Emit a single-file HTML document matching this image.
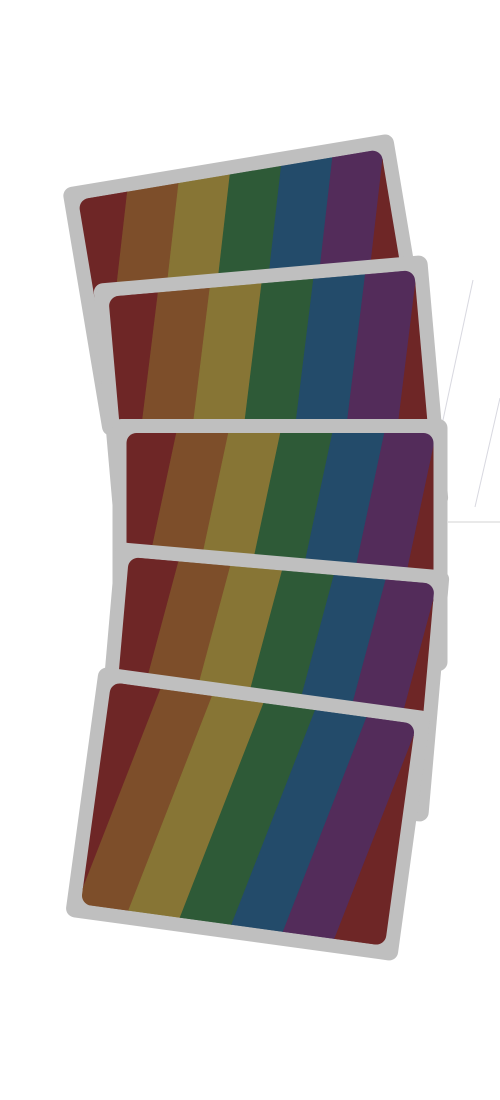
<!DOCTYPE html>
<html><head><meta charset="utf-8"><style>
html,body{margin:0;padding:0;background:#fff;}
svg{display:block;}
</style></head><body>
<svg id="s" width="500" height="1100" viewBox="0 0 500 1100">
<line x1="473" y1="280" x2="443" y2="420" stroke="#d8d8e0" stroke-width="1"/>
<line x1="500" y1="398" x2="475" y2="507" stroke="#d8d8e0" stroke-width="1"/>
<line x1="448" y1="522" x2="500" y2="522" stroke="#e2e2e2" stroke-width="1.5"/>
</svg>
<script>
const cardCx = [248, 271, 280, 272, 248];
const cardCy = [285, 395, 545, 682, 814];
const cardRot = [-9.5, -5, 0, 5, 7.8];
const cardSkew = [-16, -12, -12, -10, -13.5];
const colors = ['#6e2626','#7d4e2a','#877535','#2e5a37','#234b6a','#532c5a'];
const NS = 'http://www.w3.org/2000/svg';
const svg = document.getElementById('s');
const W = 335, H = 252, B = 14;
for (let c = 0; c < cardCx.length; c++) {
  const g = document.createElementNS(NS, 'g');
  g.setAttribute('transform', `translate(${cardCx[c]},${cardCy[c]}) rotate(${cardRot[c]})`);
  
  
  const outer = document.createElementNS(NS, 'rect');
  outer.setAttribute('x', -W/2); outer.setAttribute('y', -H/2);
  outer.setAttribute('width', W); outer.setAttribute('height', H);
  outer.setAttribute('rx', 9); outer.setAttribute('fill', '#bfbfbf');
  
  
  g.appendChild(outer);
  const cp = document.createElementNS(NS, 'clipPath');
  cp.setAttribute('id', 'cp' + c);
  const ir = document.createElementNS(NS, 'rect');
  const iw = W - 2*B, ih = H - 2*B;
  ir.setAttribute('x', -iw/2); ir.setAttribute('y', -ih/2);
  ir.setAttribute('width', iw); ir.setAttribute('height', ih); ir.setAttribute('rx', 10);
  cp.appendChild(ir); g.appendChild(cp);
  const sg = document.createElementNS(NS, 'g');
  sg.setAttribute('clip-path', `url(#cp${c})`);
  
  
  const shift = Math.tan(cardSkew[c] * Math.PI / 180) * ih;
  const top = -ih/2, bot = ih/2;
  for (let i = -1; i <= 11; i++) {
    const a = -iw/2 + 50 + (i-1)*52, b = a + 52;
    const p = document.createElementNS(NS, 'polygon');
    p.setAttribute('points', `${a},${top} ${b},${top} ${b+shift},${bot} ${a+shift},${bot}`);
    p.setAttribute('fill', colors[((i % 6) + 6) % 6]);
    p.setAttribute('stroke', colors[((i % 6) + 6) % 6]);
    p.setAttribute('stroke-width', '0.6');
    
    
    sg.appendChild(p);
  }
  g.appendChild(sg);
  svg.appendChild(g);
}
</script>
</body></html>
